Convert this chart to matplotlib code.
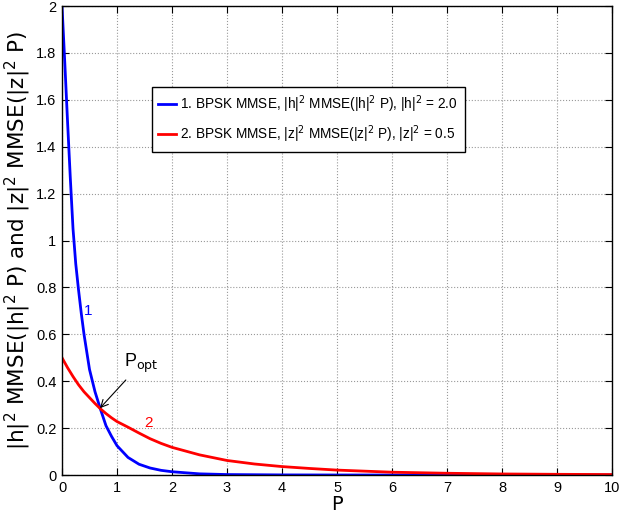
import matplotlib
matplotlib.use('Agg')
import matplotlib.pyplot as plt

# values
p_blue = [0, 0.05, 0.1, 0.15, 0.2, 0.25, 0.3, 0.35, 0.4, 0.5, 0.6, 0.7, 0.8, 0.9,
          1.0, 1.2, 1.4, 1.6, 1.8, 2.0, 2.5, 3, 4, 5, 6, 7, 8, 9, 10]
mmse_h = [2.0, 1.76, 1.51, 1.27, 1.05, 0.90, 0.79, 0.69, 0.60, 0.45, 0.355, 0.28, 0.21, 0.165,
          0.125, 0.075, 0.046, 0.030, 0.020, 0.014, 0.005, 0.002, 0.0005, 0.0001, 0, 0, 0, 0, 0]

p_red = [0, 0.1, 0.2, 0.3, 0.4, 0.5, 0.6, 0.7, 0.8, 0.9, 1.0, 1.2, 1.4, 1.6, 1.8, 2.0,
         2.5, 3.0, 3.5, 4.0, 4.5, 5, 6, 7, 8, 9, 10]
mmse_z = [0.50, 0.458, 0.42, 0.385, 0.355, 0.33, 0.305, 0.282, 0.262, 0.244, 0.228, 0.204,
          0.179, 0.155, 0.135, 0.118, 0.086, 0.062, 0.047, 0.036, 0.028, 0.021, 0.012,
          0.0075, 0.0045, 0.003, 0.002]

xticks = list(range(0, 11))
yticks = [0, 0.2, 0.4, 0.6, 0.8, 1, 1.2, 1.4, 1.6, 1.8, 2]
ytick_labels = ['0', '0.2', '0.4', '0.6', '0.8', '1', '1.2', '1.4', '1.6', '1.8', '2']

narrow = ['Liberation Sans Narrow', 'Liberation Sans', 'DejaVu Sans']

fig = plt.figure(figsize=(6.42, 5.25), dpi=100)
ax = fig.add_axes([0.0966, 0.0952, 0.8567, 0.8933])

ax.plot(p_blue, mmse_h, color=(0, 0, 1), linewidth=2,
        label=r'1. BPSK MMSE, |h|$^2$ MMSE(|h|$^2$ P), |h|$^2$ = 2.0')
ax.plot(p_red, mmse_z, color=(1, 0, 0), linewidth=2,
        label=r'2. BPSK MMSE, |z|$^2$ MMSE(|z|$^2$ P), |z|$^2$ = 0.5')

ax.set_xlim(0, 10)
ax.set_ylim(0, 2)
ax.set_xticks(xticks)
ax.set_yticks(yticks)
ax.set_yticklabels(ytick_labels)
for lab in ax.get_xticklabels() + ax.get_yticklabels():
    lab.set_family(narrow)
    lab.set_fontsize(10.5)
ax.tick_params(direction='in', top=True, right=True, length=5, width=0.8, pad=4)
ax.grid(True, linestyle=':', color='#999999', linewidth=0.8)
for s in ax.spines.values():
    s.set_linewidth(1.0)

ax.set_xlabel('P', fontsize=14, labelpad=0)
ax.set_ylabel(r'|h|$^2$ MMSE(|h|$^2$ P) and |z|$^2$ MMSE(|z|$^2$ P)', fontsize=15.5, labelpad=2)

leg = ax.legend(loc='upper left', bbox_to_anchor=(0.163, 0.828), prop={'family': narrow, 'size': 9.8},
                fancybox=False, edgecolor='black', framealpha=1, handlelength=1.3,
                handletextpad=0.3, borderpad=0.5, labelspacing=0.6, borderaxespad=0)
leg.get_frame().set_linewidth(1.0)

ax.text(0.47, 0.70, '1', color=(0, 0, 1), fontsize=11, family=narrow, ha='center', va='center')
ax.text(1.57, 0.22, '2', color=(1, 0, 0), fontsize=11, family=narrow, ha='center', va='center')
ax.annotate(r'P$_{\mathrm{opt}}$', xy=(0.69, 0.285), xytext=(1.12, 0.46),
            fontsize=13, family=narrow,
            arrowprops=dict(arrowstyle='->', color='black', lw=0.8, shrinkA=2, shrinkB=0))

fig.savefig('out.png', dpi=100)
